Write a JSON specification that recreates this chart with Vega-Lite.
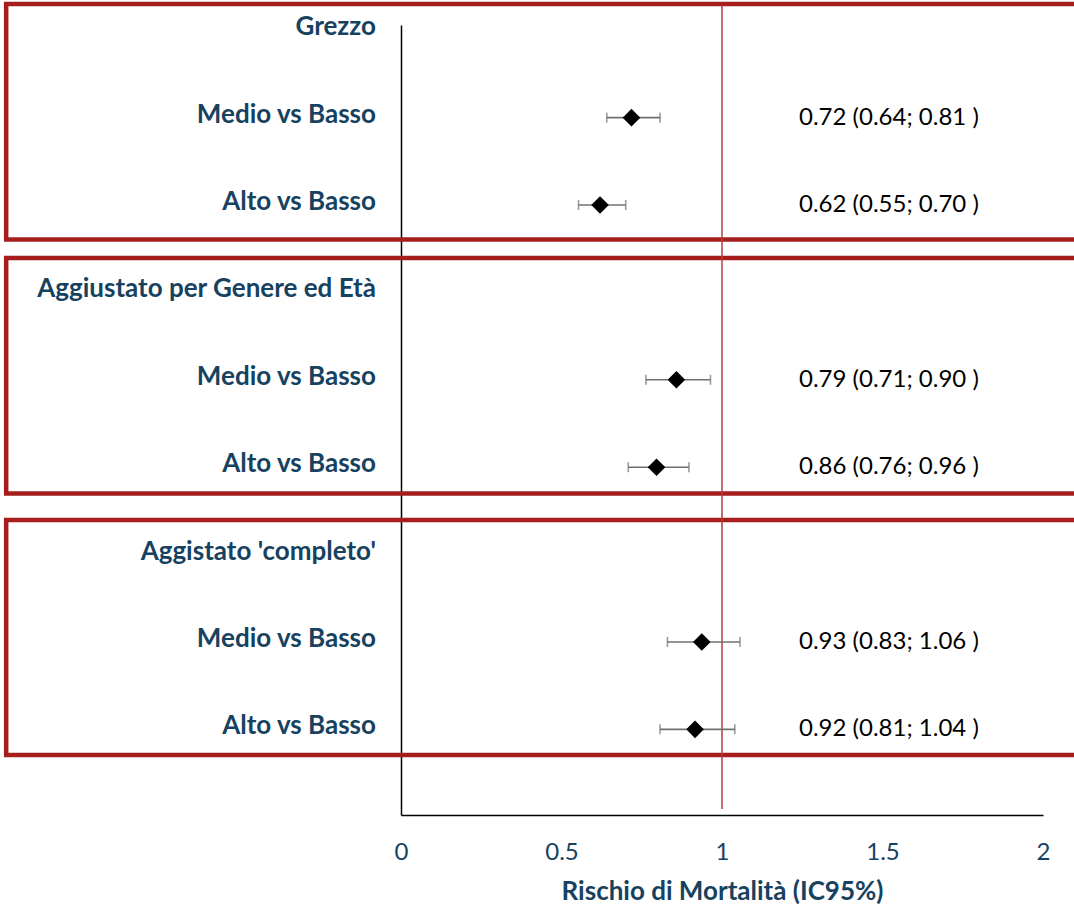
{
  "$schema": "https://vega.github.io/schema/vega-lite/v6.json",
  "width": 642,
  "height": 790,
  "autosize": "none",
  "padding": {"left": 401, "top": 25, "right": 31, "bottom": 95},
  "background": "white",
  "config": {
    "view": {"stroke": null},
    "font": "Lato"
  },
  "datasets": {
    "stime": [
      {"gruppo": "Grezzo", "confronto": "Medio vs Basso", "riga": 1, "stima": 0.718, "inf": 0.641, "sup": 0.807, "etichetta": "0.72 (0.64; 0.81 )"},
      {"gruppo": "Grezzo", "confronto": "Alto vs Basso", "riga": 2, "stima": 0.62, "inf": 0.553, "sup": 0.70, "etichetta": "0.62 (0.55; 0.70 )"},
      {"gruppo": "Aggiustato per Genere ed Età", "confronto": "Medio vs Basso", "riga": 4, "stima": 0.858, "inf": 0.763, "sup": 0.964, "etichetta": "0.79 (0.71; 0.90 )"},
      {"gruppo": "Aggiustato per Genere ed Età", "confronto": "Alto vs Basso", "riga": 5, "stima": 0.796, "inf": 0.708, "sup": 0.897, "etichetta": "0.86 (0.76; 0.96 )"},
      {"gruppo": "Aggistato 'completo'", "confronto": "Medio vs Basso", "riga": 7, "stima": 0.937, "inf": 0.830, "sup": 1.056, "etichetta": "0.93 (0.83; 1.06 )"},
      {"gruppo": "Aggistato 'completo'", "confronto": "Alto vs Basso", "riga": 8, "stima": 0.916, "inf": 0.807, "sup": 1.040, "etichetta": "0.92 (0.81; 1.04 )"}
    ],
    "righe": [
      {"riga": 0, "testo": "Grezzo"},
      {"riga": 1, "testo": "Medio vs Basso"},
      {"riga": 2, "testo": "Alto vs Basso"},
      {"riga": 3, "testo": "Aggiustato per Genere ed Età"},
      {"riga": 4, "testo": "Medio vs Basso"},
      {"riga": 5, "testo": "Alto vs Basso"},
      {"riga": 6, "testo": "Aggistato 'completo'"},
      {"riga": 7, "testo": "Medio vs Basso"},
      {"riga": 8, "testo": "Alto vs Basso"}
    ],
    "riquadri": [
      {"gruppo": "Grezzo", "inizio": -0.3, "fine": 2.395},
      {"gruppo": "Aggiustato per Genere ed Età", "inizio": 2.606, "fine": 5.3},
      {"gruppo": "Aggistato 'completo'", "inizio": 5.604, "fine": 8.293}
    ]
  },
  "layer": [
    {
      "data": {"name": "riquadri"},
      "mark": {"type": "rect", "fill": null, "filled": false, "stroke": "#A51D1D", "strokeWidth": 4.5, "clip": false},
      "encoding": {
        "x": {"datum": -1.23, "type": "quantitative", "scale": {"domain": [0, 2], "nice": false, "zero": false},
              "title": "Rischio di Mortalità (IC95%)",
              "axis": {"values": [0, 0.5, 1, 1.5, 2], "format": "~g", "ticks": false, "grid": false, "domainColor": "black", "domainWidth": 1.5,
                       "labelFontSize": 24, "labelColor": "#17425F", "labelPadding": 25, "labelFont": "Lato",
                       "titleFontSize": 26, "titleFontWeight": "bold", "titleColor": "#17425F", "titlePadding": 14, "titleFont": "Lato",
                       "labelFlush": false}},
        "x2": {"datum": 2.2},
        "y": {"field": "inizio", "type": "quantitative", "scale": {"domain": [-0.06, 8.98], "nice": false, "zero": false, "reverse": true},
              "title": null,
              "axis": {"labels": false, "ticks": false, "grid": false, "domainColor": "black", "domainWidth": 1.5, "title": null}},
        "y2": {"field": "fine"}
      }
    },
    {
      "data": {"values": [{}]},
      "mark": {"type": "rule", "color": "#B83B3B", "strokeWidth": 1.5, "clip": false},
      "encoding": {
        "x": {"datum": 1, "type": "quantitative", "title": "Rischio di Mortalità (IC95%)"},
        "y": {"datum": -0.29, "type": "quantitative", "title": null},
        "y2": {"datum": 8.91}
      }
    },
    {
      "data": {"name": "stime"},
      "mark": {"type": "rule", "color": "#707070", "strokeWidth": 1.6},
      "encoding": {
        "x": {"field": "inf", "type": "quantitative", "title": "Rischio di Mortalità (IC95%)"},
        "x2": {"field": "sup"},
        "y": {"field": "riga", "type": "quantitative", "title": null}
      }
    },
    {
      "data": {"name": "stime"},
      "mark": {"type": "tick", "orient": "vertical", "color": "#707070", "size": 10, "thickness": 1.6},
      "encoding": {
        "x": {"field": "inf", "type": "quantitative", "title": "Rischio di Mortalità (IC95%)"},
        "y": {"field": "riga", "type": "quantitative", "title": null}
      }
    },
    {
      "data": {"name": "stime"},
      "mark": {"type": "tick", "orient": "vertical", "color": "#707070", "size": 10, "thickness": 1.6},
      "encoding": {
        "x": {"field": "sup", "type": "quantitative", "title": "Rischio di Mortalità (IC95%)"},
        "y": {"field": "riga", "type": "quantitative", "title": null}
      }
    },
    {
      "data": {"name": "stime"},
      "mark": {"type": "point", "shape": "diamond", "filled": true, "color": "black", "size": 310, "opacity": 1},
      "encoding": {
        "x": {"field": "stima", "type": "quantitative", "title": "Rischio di Mortalità (IC95%)"},
        "y": {"field": "riga", "type": "quantitative", "title": null}
      }
    },
    {
      "data": {"name": "stime"},
      "mark": {"type": "text", "align": "left", "baseline": "middle", "font": "Lato", "fontSize": 24, "color": "black", "dy": 0},
      "encoding": {
        "x": {"datum": 1.24, "type": "quantitative", "title": "Rischio di Mortalità (IC95%)"},
        "y": {"field": "riga", "type": "quantitative", "title": null},
        "text": {"field": "etichetta"}
      }
    },
    {
      "data": {"name": "righe"},
      "mark": {"type": "text", "align": "right", "baseline": "middle", "font": "Lato", "fontWeight": "bold", "fontSize": 26, "color": "#17425F", "dy": -3, "clip": false},
      "encoding": {
        "x": {"datum": -0.078, "type": "quantitative", "title": "Rischio di Mortalità (IC95%)"},
        "y": {"field": "riga", "type": "quantitative", "title": null},
        "text": {"field": "testo"}
      }
    }
  ]
}
